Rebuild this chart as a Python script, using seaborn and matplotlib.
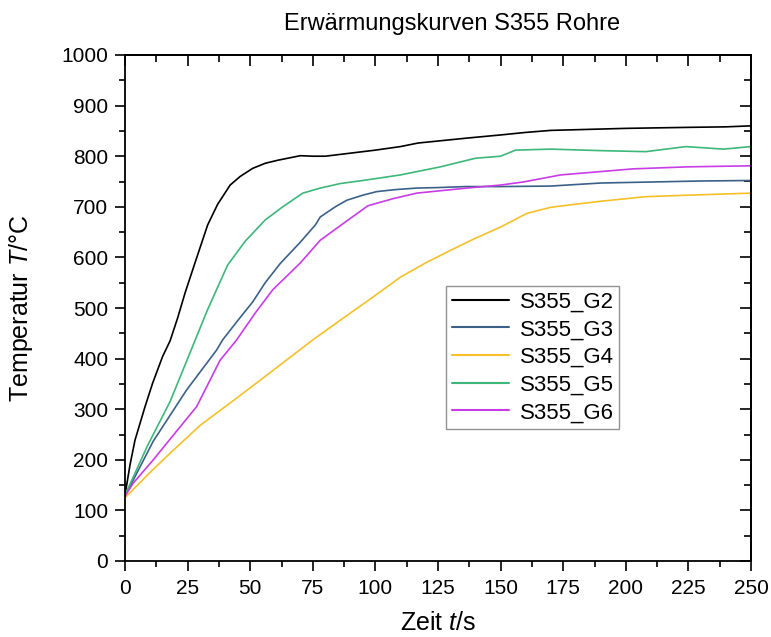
import numpy as np
import pandas as pd
import matplotlib
matplotlib.use("Agg")
import matplotlib.pyplot as plt
import seaborn as sns
from matplotlib.ticker import MultipleLocator

# ---- data ----
t_g2 = [0, 2, 4, 8, 11, 15, 18, 21, 24, 28, 33, 37, 42, 46, 51, 56, 61, 70, 75, 80, 90,
        100, 110, 117, 125, 137, 150, 160, 170, 185, 200, 225, 240, 250]
T_g2 = [130, 190, 239, 305, 351, 404, 435, 480, 530, 590, 664, 705, 743, 760, 776, 786, 792,
        801, 800, 800, 806, 812, 819, 826, 830, 836, 842, 847, 851, 853, 855, 857, 858, 860]

t_g3 = [0, 3.3, 11.3, 24.6, 36.6, 39, 45, 51, 56, 62, 70, 76, 78, 84, 88.6, 95, 100.5, 108,
        116.5, 125, 136, 150, 170, 190, 210, 230, 250]
T_g3 = [128, 160, 237, 338, 417, 437, 475, 512, 550, 588, 630, 664, 680, 700, 713, 723, 730,
        734, 737, 738, 740, 740, 741, 747, 749, 751, 752]

t_g4 = [0, 10, 18, 30, 44.6, 60, 75, 86, 98, 110, 120, 130, 140, 150, 160.5, 170, 176.5,
        190, 208, 225, 250]
T_g4 = [125, 175, 213, 268, 322, 380, 437, 476, 518, 561, 589, 614, 638, 660, 687, 699, 703,
        711, 720, 723, 727]

t_g5 = [0, 9, 18, 26, 33, 41, 48, 56, 63, 71, 78, 86, 95, 110, 126, 140, 150, 156, 170, 190,
        208, 224, 239, 250]
T_g5 = [130, 228, 315, 412, 497, 585, 632, 674, 700, 727, 737, 746, 752, 763, 779, 796, 800,
        812, 814, 811, 809, 819, 814, 819]

t_g6 = [0, 3.3, 11.3, 21, 28.6, 38, 44.6, 52, 59, 70, 78, 88, 97, 107, 116.5, 136.5, 150,
        159, 174, 203, 225, 250]
T_g6 = [128, 154, 200, 259, 305, 397, 437, 490, 536, 589, 634, 670, 702, 716, 727, 737, 743,
        749, 763, 775, 779, 781]

series_names = ["S355_G2", "S355_G3", "S355_G4", "S355_G5", "S355_G6"]
series_colors = ["#000000", "#3B6189", "#F5C02A", "#3DB77A", "#C83CE6"]

title = "Erwärmungskurven S355 Rohre"
x_label = "Zeit $\\mathit{t}$/s"
y_label = "Temperatur $\\mathit{T}$/°C"

frames = []
for name, t, T in zip(series_names,
                      [t_g2, t_g3, t_g4, t_g5, t_g6],
                      [T_g2, T_g3, T_g4, T_g5, T_g6]):
    frames.append(pd.DataFrame({"Zeit": t, "Temperatur": T, "Serie": name}))
df = pd.concat(frames, ignore_index=True)

sns.set_style("white")
plt.rcParams["font.family"] = ["Liberation Sans", "DejaVu Sans"]
plt.rcParams["mathtext.fontset"] = "custom"
plt.rcParams["mathtext.rm"] = "Liberation Sans"
plt.rcParams["mathtext.it"] = "Liberation Sans:italic"
for k in ["text.color", "axes.labelcolor", "xtick.color", "ytick.color", "axes.edgecolor"]:
    plt.rcParams[k] = "black"

fig = plt.figure(figsize=(7.71, 6.37), dpi=100)
ax = fig.add_axes([125 / 771, (637 - 561) / 637, 626 / 771, 506 / 637])

sns.lineplot(data=df, x="Zeit", y="Temperatur", hue="Serie", hue_order=series_names,
             palette=dict(zip(series_names, series_colors)), linewidth=1.2,
             estimator=None, sort=False, ax=ax)

ax.set_xlim(0, 250)
ax.set_ylim(0, 1000)
ax.xaxis.set_major_locator(MultipleLocator(25))
ax.xaxis.set_minor_locator(MultipleLocator(12.5))
ax.yaxis.set_major_locator(MultipleLocator(100))
ax.yaxis.set_minor_locator(MultipleLocator(50))

for s in ax.spines.values():
    s.set_linewidth(1.3)
    s.set_color("black")

ax.tick_params(which="major", direction="out", length=7, width=1.2, labelsize=15,
               pad=5, colors="black")
ax.tick_params(which="minor", direction="out", length=4, width=1.2)
ax.tick_params(axis="x", which="major", pad=6)
ax.tick_params(left=True, bottom=True, which="both")

top = ax.secondary_xaxis("top")
top.xaxis.set_major_locator(MultipleLocator(25))
top.xaxis.set_minor_locator(MultipleLocator(12.5))
top.tick_params(which="major", direction="in", length=8, width=1.2, labeltop=False)
top.tick_params(which="minor", direction="in", length=5, width=1.2)
top.spines["top"].set_linewidth(1.3)

right = ax.secondary_yaxis("right")
right.yaxis.set_major_locator(MultipleLocator(100))
right.yaxis.set_minor_locator(MultipleLocator(50))
right.tick_params(which="major", direction="in", length=8, width=1.2, labelright=False)
right.tick_params(which="minor", direction="in", length=5, width=1.2)
right.spines["right"].set_linewidth(1.3)

ax.set_xlabel(x_label, fontsize=18)
ax.set_ylabel(y_label, fontsize=18)
ax.xaxis.set_label_coords(0.5, -0.098)
ax.yaxis.set_label_coords(-0.144, 0.5)
ax.set_title(title, fontsize=17, pad=18, x=0.522)

leg = ax.legend(loc="upper left", bbox_to_anchor=(0.513, 0.5435), borderaxespad=0,
                fontsize=16, frameon=True, fancybox=False, handlelength=2.6,
                handletextpad=0.45, labelspacing=0.3, borderpad=0.25)
leg.get_frame().set_edgecolor("#777777")
leg.get_frame().set_linewidth(1.0)
for line in leg.get_lines():
    line.set_linewidth(1.5)

fig.savefig("out.png", dpi=100)
